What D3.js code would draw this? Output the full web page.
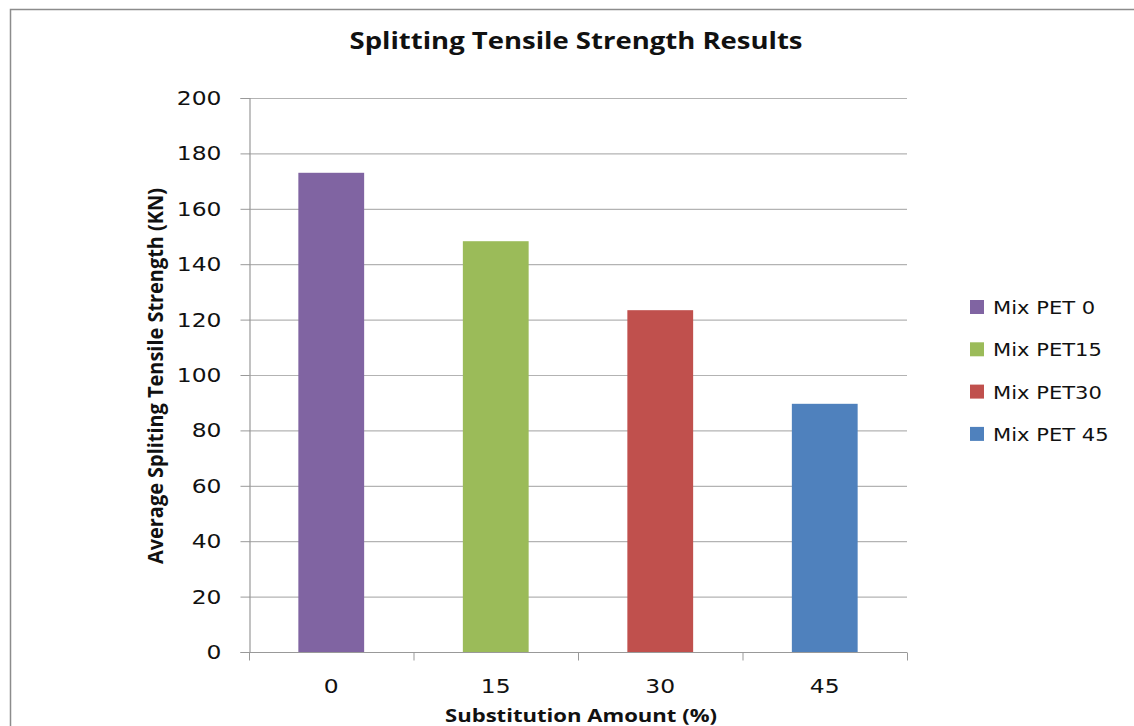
<!DOCTYPE html>
<html>
<head>
<meta charset="utf-8">
<script src="https://cdn.jsdelivr.net/npm/d3@7"></script>
<style>
  html, body { margin: 0; padding: 0; background: #fff; }
  svg { display: block; }
</style>
</head>
<body>
<svg id="chart" width="1134" height="726"></svg>
<script>
// Splitting tensile strength per PET substitution level
const categories = ["0", "15", "30", "45"];
const seriesNames = ["Mix PET 0", "Mix PET15", "Mix PET30", "Mix PET 45"];
const values = [173, 148.3, 123.4, 89.6];
const colors = ["#8064A2", "#9BBB59", "#C0504D", "#4F81BD"];
const yTicks = [0, 20, 40, 60, 80, 100, 120, 140, 160, 180, 200];

const svg = d3.select("#chart");

// widen text horizontally by a factor, keeping its anchor
function stretch(sel, k) {
  sel.each(function () {
    const w = this.getComputedTextLength();
    d3.select(this).attr("textLength", w * k).attr("lengthAdjust", "spacingAndGlyphs");
  });
}

// outer frame
svg.append("rect")
  .attr("x", 10.5).attr("y", 9.5)
  .attr("width", 1200).attr("height", 800)
  .attr("fill", "none").attr("stroke", "#8c8c8c").attr("stroke-width", 1.5);

const plot = { left: 249, right: 907, top: 98, bottom: 652 };

const x = d3.scaleBand().domain(categories).range([plot.left, plot.right]).paddingInner(0.6).paddingOuter(0.3);
const xOuter = d3.scaleBand().domain(categories).range([plot.left, plot.right]);
const y = d3.scaleLinear().domain([0, 200]).range([plot.bottom, plot.top]);

// gridlines
svg.append("g")
  .selectAll("line").data(yTicks.slice(1)).join("line")
  .attr("x1", plot.left).attr("x2", plot.right)
  .attr("y1", d => y(d) + 0.5).attr("y2", d => y(d) + 0.5)
  .attr("stroke", "#b3b3b3").attr("stroke-width", 1.2);

// bars
svg.append("g")
  .selectAll("rect").data(values).join("rect")
  .attr("x", (d, i) => x(categories[i]))
  .attr("width", x.bandwidth())
  .attr("y", d => y(d))
  .attr("height", d => y(0) - y(d))
  .attr("fill", (d, i) => colors[i]);

// y axis
const yAxis = svg.append("g")
  .attr("transform", `translate(${plot.left + 0.5},0)`)
  .call(d3.axisLeft(y).tickValues(yTicks).tickSize(9).tickPadding(19));
yAxis.select(".domain").attr("stroke", "#999").attr("stroke-width", 1.2);
yAxis.selectAll(".tick line").attr("stroke", "#999");
yAxis.selectAll("text")
  .attr("font-family", "DejaVu Sans, Verdana, sans-serif")
  .attr("font-size", 20).attr("fill", "#111")
  .call(stretch, 1.17);

// x axis with boundary ticks between categories
const xAxis = svg.append("g").attr("transform", `translate(0,${plot.bottom + 0.5})`);
xAxis.append("line")
  .attr("x1", plot.left - 4).attr("x2", plot.right)
  .attr("stroke", "#999").attr("stroke-width", 1.2);
const bounds = categories.map(c => xOuter(c)).concat([plot.right]);
xAxis.selectAll("line.tk").data(bounds).join("line")
  .attr("class", "tk")
  .attr("x1", d => d + 0.5).attr("x2", d => d + 0.5)
  .attr("y1", 0).attr("y2", 8)
  .attr("stroke", "#999");
xAxis.selectAll("text").data(categories).join("text")
  .attr("x", d => xOuter(d) + xOuter.bandwidth() / 2)
  .attr("y", 40)
  .attr("text-anchor", "middle")
  .attr("font-family", "DejaVu Sans, Verdana, sans-serif")
  .attr("font-size", 20).attr("fill", "#111")
  .text(d => d)
  .call(stretch, 1.17);

// titles
svg.append("text")
  .attr("x", 576).attr("y", 49)
  .attr("text-anchor", "middle")
  .attr("font-family", "Open Sans, sans-serif").attr("font-weight", "bold")
  .attr("font-size", 23).attr("fill", "#111")
  .attr("textLength", 453).attr("lengthAdjust", "spacingAndGlyphs")
  .text("Splitting Tensile Strength Results");

svg.append("text")
  .attr("x", 581).attr("y", 722)
  .attr("text-anchor", "middle")
  .attr("font-family", "Open Sans, sans-serif").attr("font-weight", "bold")
  .attr("font-size", 18).attr("fill", "#111")
  .attr("textLength", 272).attr("lengthAdjust", "spacingAndGlyphs")
  .text("Substitution Amount (%)");

svg.append("text")
  .attr("transform", `translate(163,376) rotate(-90)`)
  .attr("text-anchor", "middle")
  .attr("font-family", "Open Sans, sans-serif").attr("font-weight", "bold")
  .attr("font-size", 21).attr("fill", "#111")
  .attr("textLength", 376).attr("lengthAdjust", "spacingAndGlyphs")
  .text("Average  Spliting Tensile Strength (KN)");

// legend
const legend = svg.append("g").attr("transform", "translate(970,300)");
const items = legend.selectAll("g").data(seriesNames).join("g")
  .attr("transform", (d, i) => `translate(0,${i * 42.3})`);
items.append("rect")
  .attr("width", 14).attr("height", 14)
  .attr("fill", (d, i) => colors[i]);
items.append("text")
  .attr("x", 23).attr("y", 14)
  .attr("font-family", "DejaVu Sans, Verdana, sans-serif")
  .attr("font-size", 18).attr("fill", "#111")
  .text(d => d)
  .call(stretch, 1.17);
</script>
</body>
</html>
